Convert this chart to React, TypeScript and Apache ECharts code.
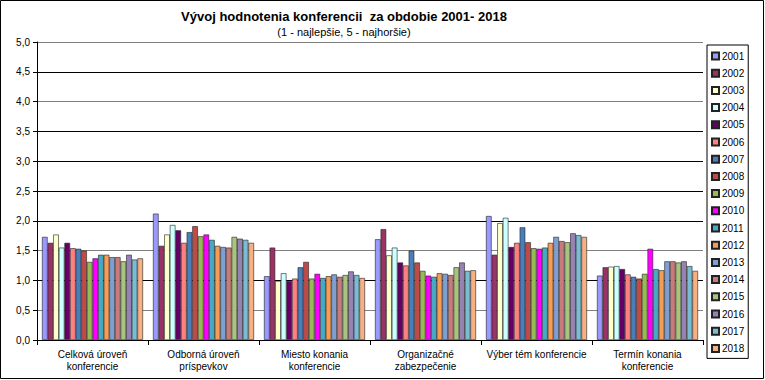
import React, { useEffect, useRef } from "react";
import * as echarts from "echarts";

const categories = [
  "Celková úroveň\nkonferencie",
  "Odborná úroveň\npríspevkov",
  "Miesto konania\nkonferencie",
  "Organizačné\nzabezpečenie",
  "Výber tém konferencie",
  "Termín konania\nkonferencie",
];

const years = ["2001","2002","2003","2004","2005","2006","2007","2008","2009","2010","2011","2012","2013","2014","2015","2016","2017","2018"];

const colors = [
  "#9999FF","#993366","#FFFFCC","#CCFFFF","#660066","#FF8080","#4A7EBB","#BE4B48",
  "#98B954","#FF00FF","#46AAC5","#F59D56","#7F9FD3","#C77C7B","#A9C47F","#9783B3","#7ABCD4","#F5B183",
];

// values per year, in category order
const v2001 = [1.73, 2.12, 1.07, 1.69, 2.08, 1.08];
const v2002 = [1.63, 1.58, 1.55, 1.86, 1.43, 1.22];
const v2003 = [1.77, 1.77, 0.99, 1.42, 1.96, 1.23];
const v2004 = [1.55, 1.93, 1.12, 1.55, 2.05, 1.24];
const v2005 = [1.63, 1.84, 0.99, 1.30, 1.56, 1.19];
const v2006 = [1.54, 1.63, 1.03, 1.25, 1.63, 1.10];
const v2007 = [1.53, 1.81, 1.22, 1.50, 1.89, 1.06];
const v2008 = [1.50, 1.91, 1.31, 1.30, 1.64, 1.03];
const v2009 = [1.31, 1.74, 1.03, 1.16, 1.54, 1.11];
const v2010 = [1.37, 1.77, 1.11, 1.08, 1.53, 1.53];
const v2011 = [1.43, 1.68, 1.04, 1.06, 1.55, 1.19];
const v2012 = [1.43, 1.58, 1.07, 1.12, 1.63, 1.17];
const v2013 = [1.39, 1.56, 1.10, 1.11, 1.73, 1.32];
const v2014 = [1.39, 1.55, 1.06, 1.09, 1.66, 1.32];
const v2015 = [1.32, 1.73, 1.09, 1.22, 1.64, 1.30];
const v2016 = [1.43, 1.70, 1.15, 1.30, 1.79, 1.32];
const v2017 = [1.35, 1.68, 1.09, 1.16, 1.76, 1.24];
const v2018 = [1.37, 1.63, 1.04, 1.17, 1.73, 1.16];

const values = [v2001,v2002,v2003,v2004,v2005,v2006,v2007,v2008,v2009,v2010,v2011,v2012,v2013,v2014,v2015,v2016,v2017,v2018];

const title = "Vývoj hodnotenia konferencii  za obdobie 2001- 2018";
const subtitle = "(1 - najlepšie, 5 - najhoršie)";

export default function App() {
  const ref = useRef<HTMLDivElement>(null);
  useEffect(() => {
    if (!ref.current) return;
    const chart = echarts.init(ref.current, undefined, { renderer: "svg" });
    const font = "'Liberation Sans', Arial, sans-serif";
    chart.setOption({
      animation: false,
      textStyle: { fontFamily: font },
      color: colors,
      title: {
        text: title,
        subtext: subtitle,
        left: 339,
        textAlign: "center",
        top: 5,
        itemGap: 3,
        textStyle: { fontSize: 13, fontWeight: "bold", color: "#000", fontFamily: font },
        subtextStyle: { fontSize: 11, color: "#000", fontFamily: font },
      },
      legend: {
        orient: "vertical",
        left: 707,
        top: 45,
        width: 46,
        padding: [5, 4, 4, 4],
        itemGap: 5.2,
        itemWidth: 7,
        itemHeight: 7,
        icon: "rect",
        borderColor: "#000",
        borderWidth: 1,
        backgroundColor: "#fff",
        textStyle: { fontSize: 10, color: "#000", lineHeight: 12, padding: [0, 0, 0, -2], fontFamily: font },
        data: years,
      },
      grid: { left: 37, right: 62, top: 42, bottom: 40 },
      xAxis: {
        type: "category",
        data: categories,
        axisLine: { lineStyle: { color: "#000", width: 1 } },
        axisTick: { show: true, length: 5, lineStyle: { color: "#000" } },
        axisLabel: { color: "#000", fontSize: 10, lineHeight: 12, margin: 8, interval: 0, fontFamily: font },
      },
      yAxis: {
        type: "value",
        min: 0,
        max: 5,
        interval: 0.5,
        axisLine: { show: true, lineStyle: { color: "#000" } },
        axisTick: { show: true, length: 4, lineStyle: { color: "#000" } },
        axisLabel: {
          color: "#000",
          fontSize: 10,
          margin: 7,
          fontFamily: font,
          formatter: (v: number) => v.toFixed(1).replace(".", ","),
        },
        splitLine: {
          lineStyle: {
            color: ["#000", "#808080", "#000", "#808080", "#000", "#000", "#000", "#000", "#808080", "#000", "#808080"],
            width: 1,
          },
        },
      },
      series: years.map((y, i) => ({
        name: y,
        type: "bar",
        data: values[i],
        barGap: "0%",
        barCategoryGap: "9%",
        itemStyle: { color: colors[i], borderColor: "#222", borderWidth: 0.6 },
      })),
      graphic: [
        {
          type: "rect",
          shape: { x: 0.5, y: 0.5, width: 763, height: 378 },
          style: { fill: "none", stroke: "#000", lineWidth: 1 },
          silent: true,
        },
      ],
    });
    return () => chart.dispose();
  }, []);
  return (
    <div
      ref={ref}
      style={{ position: "fixed", left: 0, top: 0, width: 765, height: 380, background: "#fff" }}
    />
  );
}
